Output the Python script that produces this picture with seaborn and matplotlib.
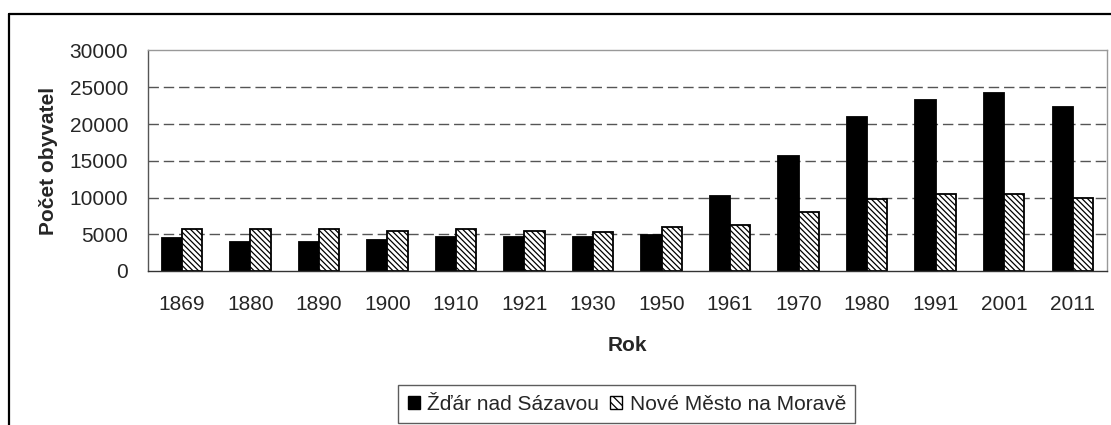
import matplotlib
matplotlib.use("Agg")
import matplotlib.pyplot as plt
import seaborn as sns
import pandas as pd
from matplotlib.lines import Line2D
from matplotlib.patches import Patch

years = ["1869", "1880", "1890", "1900", "1910", "1921", "1930",
         "1950", "1961", "1970", "1980", "1991", "2001", "2011"]
zdar = [4470, 3970, 3970, 4200, 4690, 4690, 4690,
        4880, 10240, 15580, 20950, 23250, 24200, 22360]
nove_mesto = [5770, 5770, 5770, 5500, 5770, 5500, 5290,
              6000, 6230, 8080, 9760, 10430, 10430, 9970]
series_names = ["Žďár nad Sázavou", "Nové Město na Moravě"]
y_ticks = [0, 5000, 10000, 15000, 20000, 25000, 30000]

FS = 15
HATCH = "\\\\\\\\\\\\"

sns.set_theme(style="white")
plt.rcParams['font.family'] = ['Liberation Sans', 'DejaVu Sans']
plt.rcParams['hatch.linewidth'] = 0.9
plt.rcParams['hatch.color'] = '#222222'

df = pd.DataFrame({
    "Rok": years * 2,
    "value": zdar + nove_mesto,
    "series": [series_names[0]] * len(years) + [series_names[1]] * len(years),
})

fig = plt.figure(figsize=(11.11, 4.25), dpi=100)
ax = fig.add_axes([147.5/1111, 1 - 271/425, 959.5/1111, 220.5/425])

sns.barplot(data=df, x="Rok", y="value", hue="series", order=years,
            hue_order=series_names, palette=["black", "white"],
            width=0.59, edgecolor="black", linewidth=1.3, ax=ax, legend=False)

for bar in ax.containers[1]:
    bar.set_hatch(HATCH)
    bar.set_edgecolor("black")

ax.set_xlim(-0.5, len(years) - 0.5)
ax.set_ylim(0, 30000)
ax.set_yticks(y_ticks)
ax.set_yticklabels([str(v) for v in y_ticks], fontsize=FS)
ax.set_xticks(range(len(years)))
ax.set_xticklabels(years, fontsize=FS)
ax.set_xticks([i - 0.5 for i in range(len(years) + 1)], minor=True)
ax.tick_params(axis='x', which='major', length=0, pad=17)
ax.tick_params(axis='x', which='minor', length=6, width=1, color='#333333', direction='out')
ax.tick_params(axis='y', length=6, width=1, color='#333333', direction='out', pad=8)

for v in y_ticks[1:-1]:
    ax.axhline(v, color='#555555', linestyle=(0, (7.5, 3.5)), linewidth=1, zorder=0)

for side in ['top', 'right']:
    ax.spines[side].set_visible(True)
    ax.spines[side].set_color('#999999')
    ax.spines[side].set_linewidth(1)
ax.spines['left'].set_color('#555555')
ax.spines['bottom'].set_color('#333333')
ax.spines['left'].set_linewidth(1)
ax.spines['bottom'].set_linewidth(1)

ax.set_ylabel("Počet obyvatel", fontsize=FS, fontweight='bold', labelpad=8)
ax.set_xlabel("Rok", fontsize=FS, fontweight='bold', labelpad=16)

handles = [Patch(facecolor='black', edgecolor='black'),
           Patch(facecolor='white', edgecolor='black', hatch="\\\\\\\\")]
leg = fig.legend(handles, series_names, loc='center',
                 bbox_to_anchor=(626.7/1111, 1 - 404.3/425), ncol=2,
                 fontsize=FS, frameon=True, fancybox=False,
                 handlelength=0.6, handleheight=0.6, handletextpad=0.35,
                 columnspacing=0.5, borderpad=0.45, borderaxespad=0)
leg.get_frame().set_edgecolor('#333333')
leg.get_frame().set_linewidth(1)

# outer chart frame
fig.add_artist(Line2D([9/1111, 1], [1 - 14/425, 1 - 14/425], color='black', linewidth=1.6, transform=fig.transFigure))
fig.add_artist(Line2D([9/1111, 9/1111], [0, 1 - 14/425], color='black', linewidth=1.6, transform=fig.transFigure))

fig.savefig("out.png", dpi=100)
